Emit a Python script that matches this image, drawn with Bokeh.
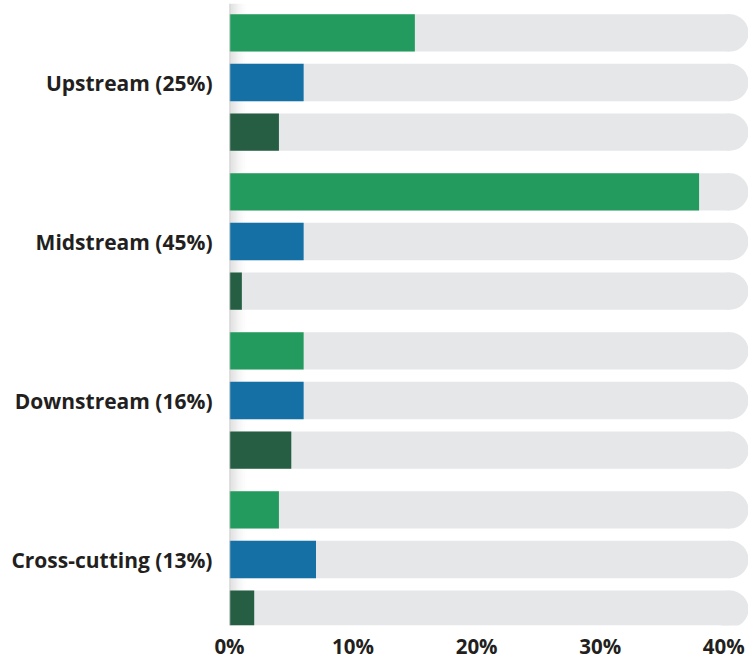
from bokeh.plotting import figure
from bokeh.models import ColumnDataSource, Range1d, FixedTicker, BoxAnnotation, Span
from bokeh.transform import dodge
from bokeh.embed import file_html
from bokeh.resources import INLINE

# Segments and their share values (percent)
groups = ["Upstream (25%)", "Midstream (45%)", "Downstream (16%)", "Cross-cutting (13%)"]
series_a = [15, 38, 6, 4]   # top bar of each group
series_b = [6, 6, 6, 7]     # middle bar
series_c = [4, 1, 5, 2]     # bottom bar
tick_values = [0, 10, 20, 30, 40]
tick_labels = ["0%", "10%", "20%", "30%", "40%"]

colors = ["#239B5E", "#1570A6", "#255E42"]
track_color = "#E6E7E9"
text_color = "#231F20"
font = "Open Sans"

W, H = 748, 662
left_border, top_border, bottom_border = 229, 3, 25
frame_w = W - left_border
x_max = 42.0
px_per_unit = frame_w / x_max

# vertical layout: one unit per group
group_px = 158.7
bar_px = 37.3
offset = 49.5 / group_px
bar_h = bar_px / group_px
y_top = -0.497
y_bottom = 3.415
track_end = x_max - (bar_px / 2) / px_per_unit

idx = list(range(len(groups)))
src = ColumnDataSource(dict(idx=idx, group=groups, a=series_a, b=series_b, c=series_c))

p = figure(width=W, height=H, output_backend="svg", toolbar_location=None,
           y_range=Range1d(start=y_bottom, end=y_top),
           x_range=Range1d(0, x_max),
           min_border_left=left_border, min_border_right=0,
           min_border_top=top_border, min_border_bottom=bottom_border)
p.outline_line_color = None
p.grid.visible = False
p.background_fill_color = "white"

# soft shadow to the right of the baseline
n_strips = 10
for i in range(n_strips):
    w = 2.0 / px_per_unit
    p.add_layout(BoxAnnotation(left=i * w, right=(i + 1) * w,
                               fill_color="#9a9a9a", fill_alpha=0.32 * (1 - i / n_strips) ** 2,
                               line_color=None, level="underlay"))

for k, (col, c) in enumerate(zip(["a", "b", "c"], colors)):
    y = dodge("idx", offset * (k - 1))
    # rounded grey track
    p.hbar(y=y, left=0, right=track_end, height=bar_h, source=src,
           fill_color=track_color, line_color=None)
    p.scatter(x=track_end, y=y, size=bar_px, marker="circle", source=src,
              fill_color=track_color, line_color=None)
    # value bar
    p.hbar(y=y, left=0, right=col, height=bar_h, source=src,
           fill_color=c, line_color=None)

p.add_layout(Span(location=0, dimension="height", line_color="#c9c9c9", line_width=1.5))

p.yaxis.ticker = FixedTicker(ticks=idx)
p.yaxis.major_label_overrides = {i: g for i, g in zip(idx, groups)}
p.yaxis.axis_line_color = None
p.yaxis.major_tick_line_color = None
p.yaxis.minor_tick_line_color = None
p.yaxis.major_tick_out = 0
p.yaxis.major_tick_in = 0
p.yaxis.major_label_standoff = 17
p.yaxis.major_label_text_font = font
p.yaxis.major_label_text_font_style = "bold"
p.yaxis.major_label_text_font_size = "21px"
p.yaxis.major_label_text_color = text_color

p.xaxis.ticker = FixedTicker(ticks=tick_values)
p.xaxis.major_label_overrides = {v: t for v, t in zip(tick_values, tick_labels)}
p.xaxis.axis_line_color = None
p.xaxis.major_tick_line_color = None
p.xaxis.minor_tick_line_color = None
p.xaxis.major_tick_out = 0
p.xaxis.major_tick_in = 0
p.xaxis.major_label_standoff = 6
p.xaxis.major_label_text_font = font
p.xaxis.major_label_text_font_style = "bold"
p.xaxis.major_label_text_font_size = "20.5px"
p.xaxis.major_label_text_color = text_color

open("out.html", "w").write(file_html(p, INLINE))
